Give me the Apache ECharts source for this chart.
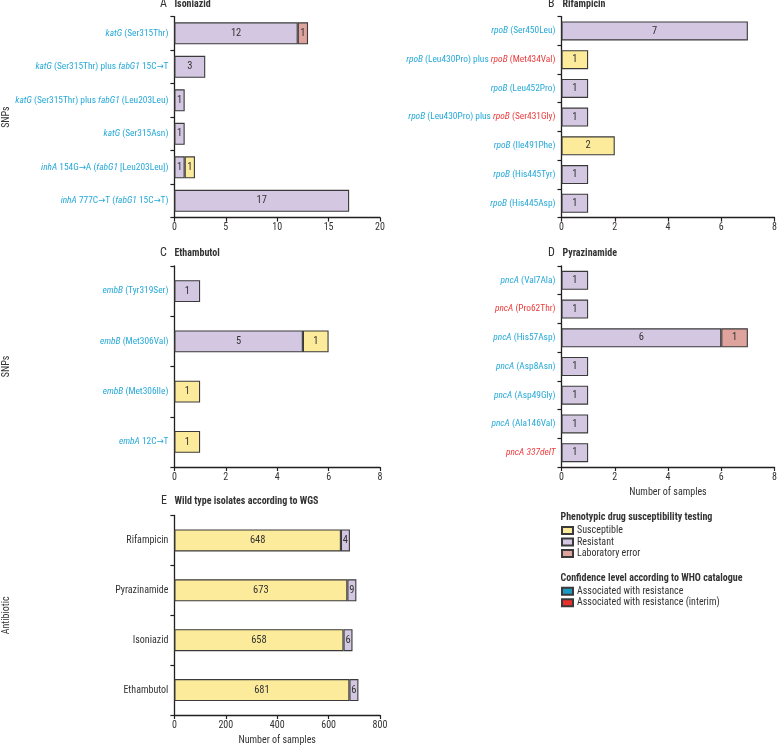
<!DOCTYPE html>
<html><head><meta charset="utf-8">
<script src="https://cdn.jsdelivr.net/npm/echarts@6/dist/echarts.min.js"></script>
<style>html,body{margin:0;padding:0;background:#fff}#c{width:777px;height:745px}</style>
</head><body><div id="c"></div>
<script>
const FONT = "'Roboto Condensed','DejaVu Sans Condensed',sans-serif";

// Markup in category names: *...* = italic gene name, ^ = rest of label in red
// Panel A – Isoniazid
const catA = ['*katG* (Ser315Thr)', '*katG* (Ser315Thr) plus *fabG1* 15C→T', '*katG* (Ser315Thr) plus *fabG1* (Leu203Leu)', '*katG* (Ser315Asn)', '*inhA* 154G→A (*fabG1* [Leu203Leu])', '*inhA* 777C→T (*fabG1* 15C→T)'];
const resA = [12, 3, 1, 1, 1, 17];
const susA = [0, 0, 0, 0, 1, 0];
const errA = [1, 0, 0, 0, 0, 0];
// Panel B – Rifampicin
const catB = ['*rpoB* (Ser450Leu)', '*rpoB* (Leu430Pro) plus ^*rpoB* (Met434Val)', '*rpoB* (Leu452Pro)', '*rpoB* (Leu430Pro) plus ^*rpoB* (Ser431Gly)', '*rpoB* (Ile491Phe)', '*rpoB* (His445Tyr)', '*rpoB* (His445Asp)'];
const resB = [7, 0, 1, 1, 0, 1, 1];
const susB = [0, 1, 0, 0, 2, 0, 0];
const errB = [0, 0, 0, 0, 0, 0, 0];
// Panel C – Ethambutol
const catC = ['*embB* (Tyr319Ser)', '*embB* (Met306Val)', '*embB* (Met306Ile)', '*embA* 12C→T'];
const resC = [1, 5, 0, 0];
const susC = [0, 1, 1, 1];
const errC = [0, 0, 0, 0];
// Panel D – Pyrazinamide
const catD = ['*pncA* (Val7Ala)', '^*pncA* (Pro62Thr)', '*pncA* (His57Asp)', '*pncA* (Asp8Asn)', '*pncA* (Asp49Gly)', '*pncA* (Ala146Val)', '^*pncA 337delT*'];
const resD = [1, 1, 6, 1, 1, 1, 1];
const susD = [0, 0, 0, 0, 0, 0, 0];
const errD = [0, 0, 1, 0, 0, 0, 0];
// Panel E – Wild type isolates according to WGS
const catE = ['Rifampicin', 'Pyrazinamide', 'Isoniazid', 'Ethambutol'];
const susE = [648, 673, 658, 681];
const resE = [4, 9, 6, 6];

const xMaxA = 20, xIntA = 5, xMaxSNP = 8, xIntSNP = 2, xMaxE = 800, xIntE = 200;

const C_SUS = '#fdeb9c', C_RES = '#d4c7e2', C_ERR = '#dfa39e';
const C_WHO = '#1b9bc2', C_WHO_I = '#e8302d';
const CYAN = '#27a9d8', RED = '#ec3b3b', TXT = '#333333', AX = '#231f20';
const GS = 9.4; // gene label font size

function richLabel(s) {
  let out = '', italic = false, red = false, buf = '';
  const flush = () => { if (buf) { out += '{' + (red ? 'r' : 'c') + (italic ? 'i' : '') + '|' + buf + '}'; buf = ''; } };
  for (const ch of s) {
    if (ch === '*') { flush(); italic = !italic; }
    else if (ch === '^') { flush(); red = true; }
    else buf += ch;
  }
  flush();
  return out;
}
const rich = {
  c: { color: CYAN, fontSize: GS, fontFamily: FONT },
  ci: { color: CYAN, fontSize: GS, fontFamily: FONT, fontStyle: 'italic' },
  r: { color: RED, fontSize: GS, fontFamily: FONT },
  ri: { color: RED, fontSize: GS, fontFamily: FONT, fontStyle: 'italic' }
};

const gridBase = { containLabel: false, outerBoundsMode: 'none' };
const grids = [
  { left: 174.4, top: 16.6, width: 205.6, height: 201 },
  { left: 561.5, top: 16.6, width: 213, height: 201 },
  { left: 174.4, top: 266, width: 205.6, height: 201 },
  { left: 561.5, top: 266, width: 213, height: 201 },
  { left: 174.4, top: 515.5, width: 205.6, height: 199.5 }
].map(g => Object.assign({}, gridBase, g));

function xAxis(idx, max, interval, name) {
  return {
    type: 'value', gridIndex: idx, min: 0, max, interval,
    name: name || '', nameLocation: 'middle', nameGap: 20,
    nameTextStyle: { color: TXT, fontSize: 10, fontFamily: FONT },
    axisLine: { show: true, lineStyle: { color: AX, width: 1.3 } },
    axisTick: { show: true, length: 4, lineStyle: { color: AX, width: 1.2 } },
    splitLine: { show: false },
    axisLabel: { color: TXT, fontSize: 10, fontFamily: FONT, margin: 5 }
  };
}
function yAxis(idx, cats, name, plain) {
  return {
    type: 'category', gridIndex: idx, data: cats, inverse: true,
    name: name || '', nameLocation: 'middle', nameRotate: 90, nameGap: 163,
    nameTextStyle: { color: TXT, fontSize: 10, fontFamily: FONT },
    axisLine: { show: true, lineStyle: { color: AX, width: 1.3 } },
    axisTick: { show: true, length: 4, lineStyle: { color: AX, width: 1.2 } },
    axisLabel: plain
      ? { color: TXT, fontSize: 10, fontFamily: FONT, margin: 6 }
      : { margin: 6, formatter: v => richLabel(v), rich }
  };
}
function bars(name, data, idx, color, bw, extra) {
  return Object.assign({
    type: 'bar', name, stack: 'p' + idx, xAxisIndex: idx, yAxisIndex: idx, barWidth: bw,
    data: data.map(v => (v > 0 ? v : null)),
    itemStyle: { color, borderColor: '#3a3a3a', borderWidth: 1.1 },
    label: { show: true, position: 'inside', color: TXT, fontSize: 10.5, fontFamily: FONT },
    emphasis: { disabled: true }
  }, extra || {});
}

const titles = [];
function panelTitle(letter, lx, text, tx, cy) {
  titles.push({ text: letter, left: lx, top: cy - 7, padding: 0, textStyle: { fontSize: 12, fontWeight: 'normal', color: TXT, fontFamily: FONT } });
  titles.push({ text, left: tx, top: cy - 6, padding: 0, textStyle: { fontSize: 10, fontWeight: 'bold', color: TXT, fontFamily: FONT } });
}
panelTitle('A', 160, 'Isoniazid', 174.4, 5);
panelTitle('B', 548, 'Rifampicin', 562.5, 5);
panelTitle('C', 160, 'Ethambutol', 174.4, 254);
panelTitle('D', 548, 'Pyrazinamide', 562.5, 254);
panelTitle('E', 161, 'Wild type isolates according to WGS', 174.4, 502);
titles.push({ text: 'Phenotypic drug susceptibility testing', left: 560.5, top: 512, padding: 0, textStyle: { fontSize: 10, fontWeight: 'bold', color: TXT, fontFamily: FONT } });
titles.push({ text: 'Confidence level according to WHO catalogue', left: 560.5, top: 573, padding: 0, textStyle: { fontSize: 10, fontWeight: 'bold', color: TXT, fontFamily: FONT } });

const legendBase = {
  orient: 'vertical', padding: 0, itemWidth: 11, itemHeight: 7, itemGap: 0.5,
  selectedMode: false, icon: 'rect',
  textStyle: { color: TXT, fontSize: 10, fontFamily: FONT, lineHeight: 11, padding: [0, 0, 0, -1] }
};

const option = {
  animation: false,
  backgroundColor: '#fff',
  title: titles,
  legend: [
    Object.assign({}, legendBase, { left: 561, top: 525, data: ['Susceptible', 'Resistant', 'Laboratory error'] }),
    Object.assign({}, legendBase, { left: 561, top: 585.8, data: ['Associated with resistance', 'Associated with resistance (interim)'] })
  ],
  grid: grids,
  xAxis: [
    xAxis(0, xMaxA, xIntA), xAxis(1, xMaxSNP, xIntSNP), xAxis(2, xMaxSNP, xIntSNP),
    xAxis(3, xMaxSNP, xIntSNP, 'Number of samples'), xAxis(4, xMaxE, xIntE, 'Number of samples')
  ],
  yAxis: [
    yAxis(0, catA, 'SNPs'), yAxis(1, catB), yAxis(2, catC, 'SNPs'), yAxis(3, catD),
    yAxis(4, catE, 'Antibiotic', true)
  ],
  series: [
    bars('Resistant', resA, 0, C_RES, 22), bars('Susceptible', susA, 0, C_SUS, 22), bars('Laboratory error', errA, 0, C_ERR, 22),
    bars('Resistant', resB, 1, C_RES, 19), bars('Susceptible', susB, 1, C_SUS, 19), bars('Laboratory error', errB, 1, C_ERR, 19),
    bars('Resistant', resC, 2, C_RES, 22), bars('Susceptible', susC, 2, C_SUS, 22), bars('Laboratory error', errC, 2, C_ERR, 22),
    bars('Resistant', resD, 3, C_RES, 19), bars('Susceptible', susD, 3, C_SUS, 19), bars('Laboratory error', errD, 3, C_ERR, 19),
    bars('Susceptible', susE, 4, C_SUS, 22), bars('Resistant', resE, 4, C_RES, 22, { barMinHeight: 9 }),
    bars('Associated with resistance', [], 4, C_WHO, 22),
    bars('Associated with resistance (interim)', [], 4, C_WHO_I, 22)
  ]
};
const chart = echarts.init(document.getElementById('c'), null, { renderer: 'canvas' });
chart.setOption(option);
</script>
</body></html>
